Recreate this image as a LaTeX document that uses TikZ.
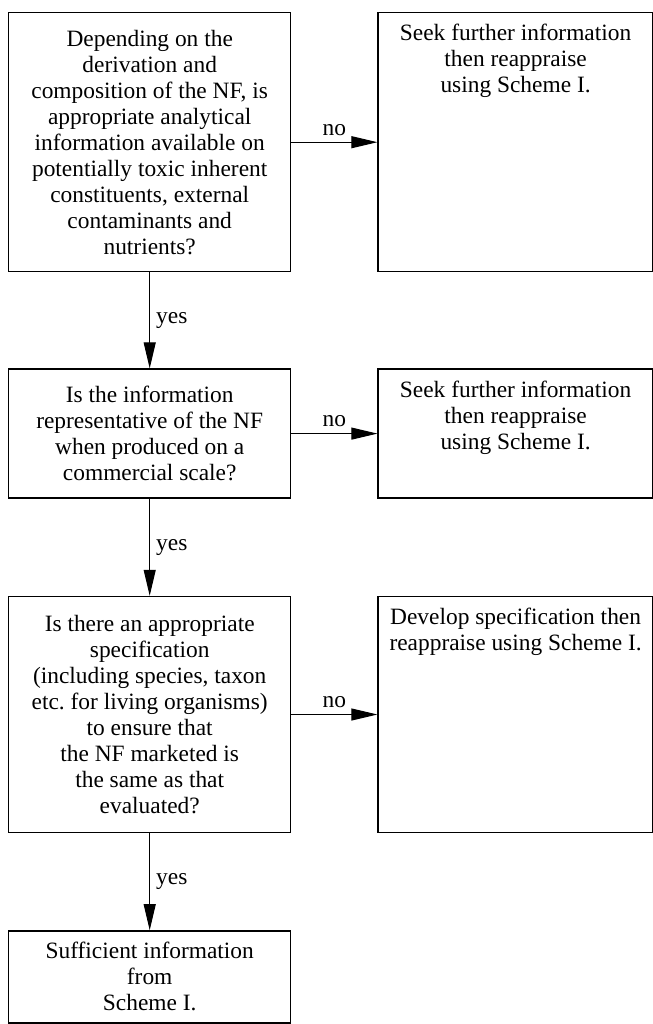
\documentclass[tikz,border=0pt]{standalone}
\usepackage{fontspec}
\setmainfont{Liberation Serif}
\usepackage{tikz}
\usetikzlibrary{positioning, arrows.meta}

\begin{document}
\begin{tikzpicture}[
    node distance=48pt and 43pt,
    font=\fontsize{11.7}{13}\selectfont,
    question/.style={
        draw,
        line width=0.7pt,
        align=center,
        minimum width=141pt,
        inner sep=2pt
    },
    advice/.style={draw, line width=0.7pt, minimum width=137.5pt},
    advtext/.style={anchor=north, align=center, inner sep=0pt, yshift=-6pt},
    arrow/.style={-{Triangle[length=13pt,width=6pt]}, line width=0.5pt},
    ans/.style={inner sep=3pt}
]

\useasboundingbox (0,0) rectangle (326.5pt,-512pt);

\node[question, minimum height=129.5pt, anchor=north west] (composition) at (4pt,-6pt)
    {Depending on the\\derivation and\\composition of the NF, is\\appropriate analytical\\information available on\\potentially toxic inherent\\constituents, external\\contaminants and\\nutrients?};
\node[question, minimum height=64.5pt] (representative) [below=of composition]
    {Is the information\\representative of the NF\\when produced on a\\commercial scale?};
\node[question, minimum height=118pt] (specification) [below=48.5pt of representative]
    {Is there an appropriate\\specification\\(including species, taxon\\etc.\ for living organisms)\\to ensure that\\the NF marketed is\\the same as that\\evaluated?};
\node[question, minimum height=46pt] (sufficient) [below=48.5pt of specification]
    {Sufficient information\\from\\Scheme I.};

\node[advice, minimum height=129.5pt, right=of composition,
    label={[advtext]north:Seek further information\\then reappraise\\using Scheme I.}] (seekone) {};
\node[advice, minimum height=64.5pt, right=of representative,
    label={[advtext]north:Seek further information\\then reappraise\\using Scheme I.}] (seektwo) {};
\node[advice, minimum height=118pt, right=of specification,
    label={[advtext]north:Develop specification then\\reappraise using Scheme I.}] (develop) {};

\draw[arrow] (composition) -- node[above, ans]{no} (seekone);
\draw[arrow] (representative) -- node[above, ans]{no} (seektwo);
\draw[arrow] (specification) -- node[above, ans]{no} (develop);

\draw[arrow] (composition) -- node[right, ans]{yes} (representative);
\draw[arrow] (representative) -- node[right, ans]{yes} (specification);
\draw[arrow] (specification) -- node[right, ans]{yes} (sufficient);

\end{tikzpicture}
\end{document}
